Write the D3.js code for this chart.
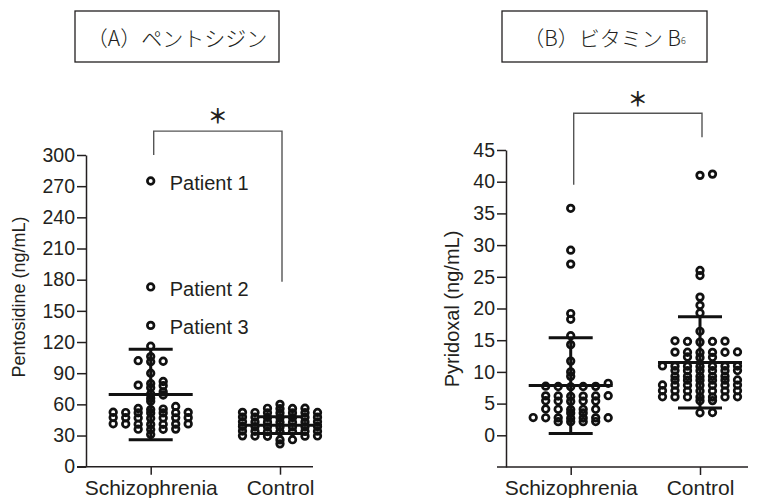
<!DOCTYPE html>
<html><head><meta charset="utf-8">
<script src="https://cdn.jsdelivr.net/npm/d3@7"></script>
<style>
body{margin:0;background:#fff;}
text{font-family:"Liberation Sans",Arial,sans-serif;fill:#231f20;}
.cjk{font-family:"Noto Sans CJK JP","Liberation Sans",sans-serif;}
</style></head>
<body><svg id="c" width="758" height="498"></svg>
<script>
// ---------- data ----------
const categories = ["Schizophrenia", "Control"];

const pentoSchizo = [275, 173, 136, 116, 106, 101, 101.5, 102, 90, 82, 80, 78, 76, 78.5,
  72, 70, 69, 66, 63, 58, 56, 55.5, 55,
  52, 52.3, 51.8, 52.1, 51.9, 52.4, 51.7,
  47, 46.8, 47.2, 47.1, 46.9, 47.3, 46.7,
  41, 41.2, 40.8, 41.1, 40.9, 41.3, 40.7,
  36, 35.8, 36.2, 36.1, 31];
const pentoControl = [60, 56, 56.3, 55.8, 56.2,
  52, 52.2, 51.8, 52.1, 51.9, 52.3, 51.7,
  47.5, 47.7, 47.3, 47.6, 47.4, 47.8, 47.2,
  43, 43.2, 42.8, 43.1, 42.9, 43.3, 42.7,
  38.5, 38.7, 38.3, 38.6, 38.4, 38.8, 38.2,
  34, 34.2, 33.8, 34.1, 33.9, 34.3, 33.7,
  29.5, 29.7, 29.3, 29.6, 29.4,
  26, 25.8, 22];
const pentoMean = [69.5, 40];
const pentoSD = [43.5, 8];
const pentoTicks = [0, 30, 60, 90, 120, 150, 180, 210, 240, 270, 300];
const patients = [{label: "Patient 1", value: 275}, {label: "Patient 2", value: 173}, {label: "Patient 3", value: 136}];
const pentoSig = {left: 300, right: 178, top: 323, star: 338};

const pyriSchizo = [35.8, 29.2, 27.0, 19.2, 18.3, 15.7, 14.3, 11.7, 10.0, 9.3, 8.2,
  7.7, 7.75, 7.65, 7.7, 7.72,
  6.2, 6.25, 6.15, 6.2, 6.22, 6.18,
  5.4, 5.45, 5.35, 5.4, 5.42,
  4.1, 4.15, 4.05, 4.1, 4.12,
  3.5, 3.52,
  2.75, 2.8, 2.7, 2.75, 2.77, 2.73, 2.76,
  2.15, 2.17, 2.13, 2.15];
const pyriControl = [41.0, 41.2, 26.0, 25.2, 21.8, 20.5, 19.3, 16.4,
  14.8, 14.9, 14.7, 14.8, 14.85,
  13.1, 13.15, 13.05, 13.1, 13.12, 13.08,
  12.3, 12.35, 12.25,
  10.9, 10.95, 10.85, 10.9, 10.92, 10.88, 10.91,
  10.2, 10.22, 10.18, 10.2, 10.21, 10.19,
  9.3, 9.32, 9.28, 9.3, 9.31,
  8.7, 8.72, 8.68, 8.7, 8.71, 8.69,
  7.9, 7.92, 7.88, 7.9, 7.91, 7.89, 7.93,
  7.0, 7.02, 6.98, 7.0, 7.01, 6.99, 7.03,
  6.05, 6.07, 6.03, 6.05, 6.06, 6.04, 6.08,
  5.45, 5.47, 3.6, 3.55];
const pyriMean = [7.85, 11.5];
const pyriSD = [7.55, 7.2];
const pyriTicks = [0, 5, 10, 15, 20, 25, 30, 35, 40, 45];
const pyriSig = {left: 39.5, right: 47, top: 50.8, star: 53.1};

// ---------- layout ----------
const svg = d3.select("#c");
const SLOT = 12.5;
const SLOT_ORDER = [0, 1, -1, 2, -2, 3, -3, 4, -4, 5, -5];

// Prism-like scatter: values grouped into bins, each bin spread side by side
function swarm(values, yScale, cx, binSize) {
  const bins = d3.group(values, v => Math.floor(v / binSize + 1e-9));
  const out = [];
  bins.forEach(vs => {
    vs.slice().sort((a, b) => a - b).forEach((v, i) => {
      out.push({x: cx + SLOT_ORDER[i] * SLOT, y: yScale(v)});
    });
  });
  return out;
}

function panel(cfg) {
  const g = svg.append("g");
  const y = d3.scaleLinear().domain(cfg.domain).range(cfg.yRange);
  const x = d3.scalePoint().domain(categories).range(cfg.catRange);

  // y axis
  const ya = g.append("g").attr("transform", `translate(${cfg.axisX},0)`)
    .call(d3.axisLeft(y).tickValues(cfg.ticks).tickSize(9).tickPadding(2).tickSizeOuter(0));
  ya.select(".domain").attr("stroke", "#231f20").attr("stroke-width", 1.5);
  ya.selectAll(".tick line").attr("stroke", "#231f20").attr("stroke-width", 1.5);
  ya.selectAll(".tick text").attr("font-size", 19.5).attr("font-family", '"Liberation Sans",Arial,sans-serif').attr("fill", "#231f20");

  // x axis
  const xa = g.append("g").attr("transform", `translate(0,${cfg.yRange[0]})`)
    .call(d3.axisBottom(x).tickSize(8).tickPadding(5).tickSizeOuter(0));
  xa.select(".domain").remove();
  xa.selectAll(".tick line").attr("stroke", "#231f20").attr("stroke-width", 1.5);
  xa.selectAll(".tick text").attr("font-size", 21).attr("font-family", '"Liberation Sans",Arial,sans-serif').attr("fill", "#231f20");
  g.append("line").attr("x1", cfg.xLine[0]).attr("x2", cfg.xLine[1])
    .attr("y1", cfg.yRange[0]).attr("y2", cfg.yRange[0])
    .attr("stroke", "#231f20").attr("stroke-width", 1.5);

  // axis title
  g.append("text").attr("transform", `translate(${cfg.titleX},${cfg.titleY}) rotate(-90)`)
    .attr("text-anchor", "middle").attr("font-size", cfg.titleSize).text(cfg.yTitle);

  // points
  cfg.series.forEach((vals, i) => {
    const pts = swarm(vals, y, x(categories[i]), cfg.binSize);
    g.append("g").selectAll("circle").data(pts).join("circle")
      .attr("cx", d => d.x).attr("cy", d => d.y).attr("r", 3.3)
      .attr("fill", "none").attr("stroke", "#111").attr("stroke-width", 2.7);
  });

  // mean & SD
  categories.forEach((c, i) => {
    const cx = x(c), m = cfg.mean[i], s = cfg.sd[i];
    const eg = g.append("g").attr("stroke", "#111").attr("stroke-width", 3);
    eg.append("line").attr("x1", cx).attr("x2", cx).attr("y1", y(m - s)).attr("y2", y(m + s));
    eg.append("line").attr("x1", cx - 42).attr("x2", cx + 42).attr("y1", y(m)).attr("y2", y(m));
    [m - s, m + s].forEach(v => eg.append("line").attr("x1", cx - 22).attr("x2", cx + 22).attr("y1", y(v)).attr("y2", y(v)));
  });

  // significance bracket
  const sg = cfg.sig, xl = x(categories[0]) + 3, xr = x(categories[1]) + 2;
  g.append("path").attr("d", `M${xl},${y(sg.left)}V${y(sg.top)}H${xr}V${y(sg.right)}`)
    .attr("fill", "none").attr("stroke", "#555").attr("stroke-width", 1.4);
  g.append("text").attr("class", "cjk").attr("x", (xl + xr) / 2).attr("y", y(sg.star))
    .attr("text-anchor", "middle").attr("dominant-baseline", "central")
    .attr("font-size", 20).attr("font-weight", "bold").text("＊");

  // title box
  const tb = cfg.box;
  g.append("rect").attr("x", tb[0]).attr("y", tb[1]).attr("width", tb[2]).attr("height", tb[3])
    .attr("fill", "none").attr("stroke", "#231f20").attr("stroke-width", 1.3);
  const tt = g.append("text").attr("class", "cjk").attr("x", tb[0] + tb[2] / 2).attr("y", tb[1] + tb[3] / 2)
    .attr("text-anchor", "middle").attr("dominant-baseline", "central").attr("font-size", 21)
    .attr("font-weight", 300);
  tt.append("tspan").text(cfg.title);
  if (cfg.titleSub) tt.append("tspan").attr("font-size", 9).attr("dy", 3).text(cfg.titleSub);

  return {g, x, y};
}

const A = panel({
  domain: [0, 300], yRange: [466.7, 155], ticks: pentoTicks, axisX: 86,
  catRange: [150.7, 280], xLine: [77, 313], binSize: 5,
  yTitle: "Pentosidine (ng/mL)", titleX: 25, titleY: 297, titleSize: 18,
  series: [pentoSchizo, pentoControl], mean: pentoMean, sd: pentoSD, sig: pentoSig,
  box: [75, 11, 204, 51], title: "（A）ペントシジン"
});
patients.forEach(p => {
  A.g.append("text").attr("x", A.x(categories[0]) + 19).attr("y", A.y(p.value) + 2)
    .attr("dominant-baseline", "central").attr("font-size", 20).text(p.label);
});

panel({
  domain: [-5, 45], yRange: [467, 150], ticks: pyriTicks, axisX: 506,
  catRange: [570.7, 700], xLine: [497, 748], binSize: 0.75,
  yTitle: "Pyridoxal (ng/mL)", titleX: 459, titleY: 309, titleSize: 20,
  series: [pyriSchizo, pyriControl], mean: pyriMean, sd: pyriSD, sig: pyriSig,
  box: [502, 11, 205, 51], title: "（B）ビタミン B", titleSub: "6"
});
</script></body></html>
